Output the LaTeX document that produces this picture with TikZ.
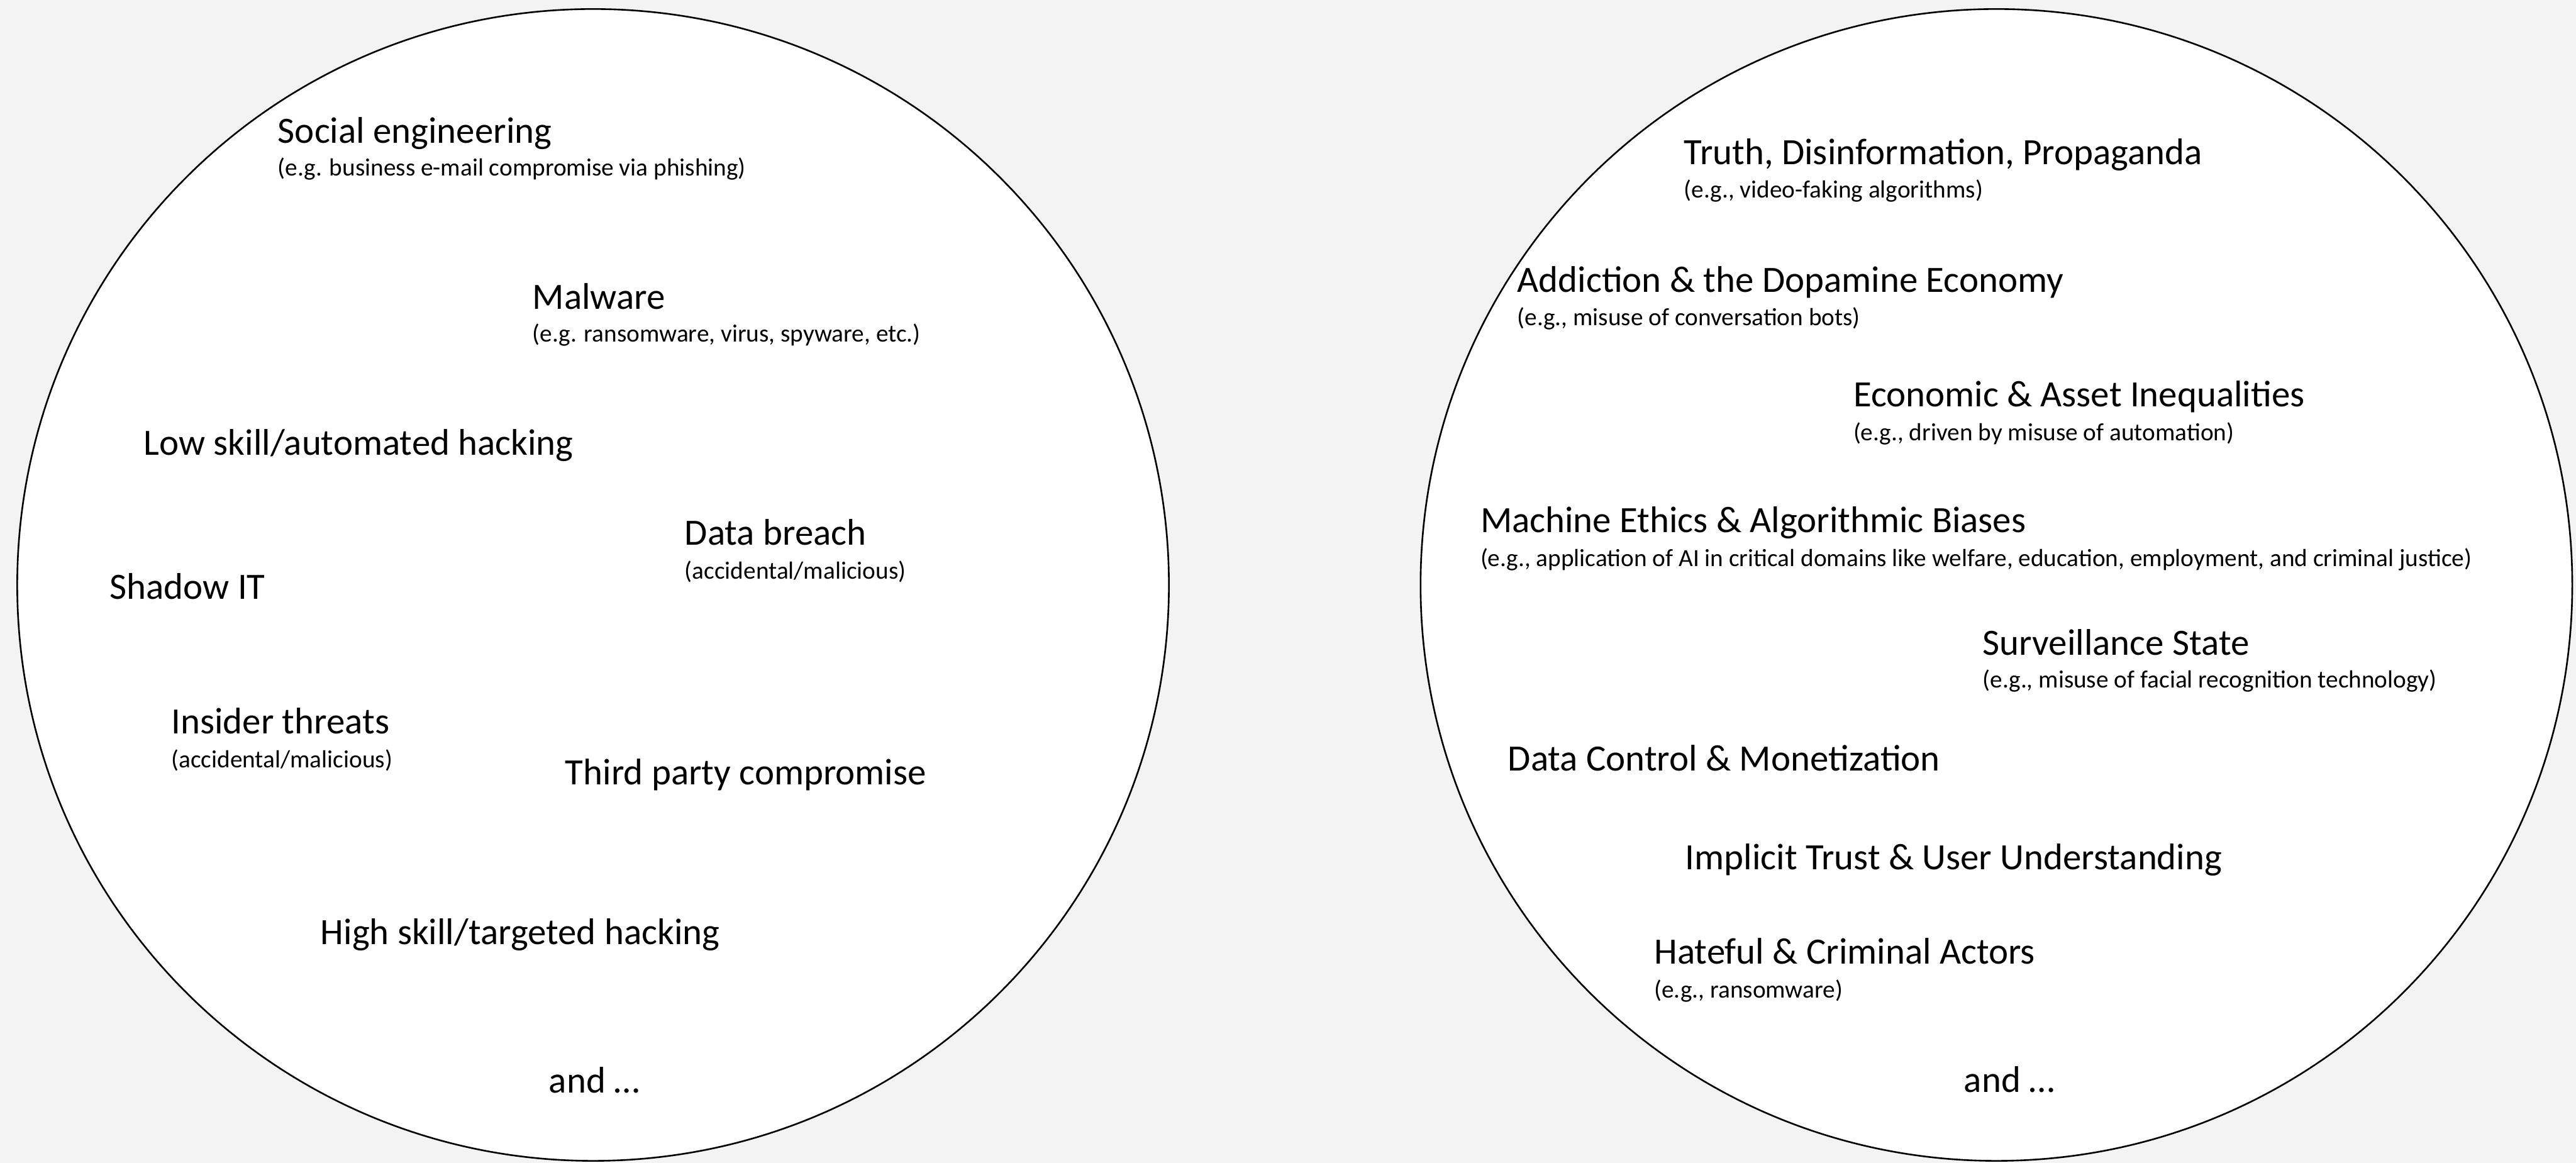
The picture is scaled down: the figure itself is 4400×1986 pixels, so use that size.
\documentclass[tikz,border=0pt]{standalone}
\usepackage{fontspec}
\setmainfont{Carlito}
\definecolor{pagebg}{HTML}{F2F3F2}
\begin{document}
\begin{tikzpicture}[x=0.01cm,y=-0.01cm,
  ring/.style={draw=black,fill=white,line width=0.8pt},
  topic/.style={anchor=base west,inner sep=0pt,font=\fontsize{18}{22}\selectfont},
  example/.style={anchor=base west,inner sep=0pt,font=\fontsize{12}{14}\selectfont}]
  % canvas
  \fill[pagebg] (0,0) rectangle (4400,1986);
  \useasboundingbox (0,0) rectangle (4400,1986);
  % the two circles
  \begin{scope}
    \clip (0,0) rectangle (4400,1986);
    \draw[ring] (1013,999) circle [radius=9.83cm];
    \draw[ring] (3410,999) circle [radius=9.83cm];
  \end{scope}
  % left circle: cyber security threats
  \node[topic]   (soc)    at (474,244)  {Social engineering};
  \node[example] (socx)   at (474,300)  {(e.g. business e-mail compromise via phishing)};
  \node[topic]   (mal)    at (909,528)  {Malware};
  \node[example] (malx)   at (909,584)  {(e.g. ransomware, virus, spyware, etc.)};
  \node[topic]   (low)    at (245,777)  {Low skill/automated hacking};
  \node[topic]   (breach) at (1169,931) {Data breach};
  \node[example] (breachx) at (1169,989) {(accidental/malicious)};
  \node[topic]   (shadow) at (187,1023) {Shadow IT};
  \node[topic]   (insider) at (292,1253) {Insider threats};
  \node[example] (insiderx) at (292,1311) {(accidental/malicious)};
  \node[topic]   (third)  at (965,1340) {Third party compromise};
  \node[topic]   (high)   at (547,1613) {High skill/targeted hacking};
  \node[topic]   (andl)   at (937,1866) {and …};
  % right circle: societal risks of AI
  \node[topic]   (truth)  at (2876,281) {Truth, Disinformation, Propaganda};
  \node[example] (truthx) at (2876,338) {(e.g., video-faking algorithms)};
  \node[topic]   (addict) at (2591,499) {Addiction \& the Dopamine Economy};
  \node[example] (addictx) at (2591,556) {(e.g., misuse of conversation bots)};
  \node[topic]   (econ)   at (3165,694) {Economic \& Asset Inequalities};
  \node[example] (econx)  at (3165,753) {(e.g., driven by misuse of automation)};
  \node[topic]   (ethics) at (2528,909) {Machine Ethics \& Algorithmic Biases};
  \node[example] (ethicsx) at (2528,967) {(e.g., application of AI in critical domains like welfare, education, employment, and criminal justice)};
  \node[topic]   (surv)   at (3386,1119) {Surveillance State};
  \node[example] (survx)  at (3386,1175) {(e.g., misuse of facial recognition technology)};
  \node[topic]   (datac)  at (2575,1316) {Data Control \& Monetization};
  \node[topic]   (trust)  at (2878,1485) {Implicit Trust \& User Understanding};
  \node[topic]   (hate)   at (2825,1646) {Hateful \& Criminal Actors};
  \node[example] (hatex)  at (2825,1704) {(e.g., ransomware)};
  \node[topic]   (andr)   at (3354,1865) {and …};
\end{tikzpicture}
\end{document}
